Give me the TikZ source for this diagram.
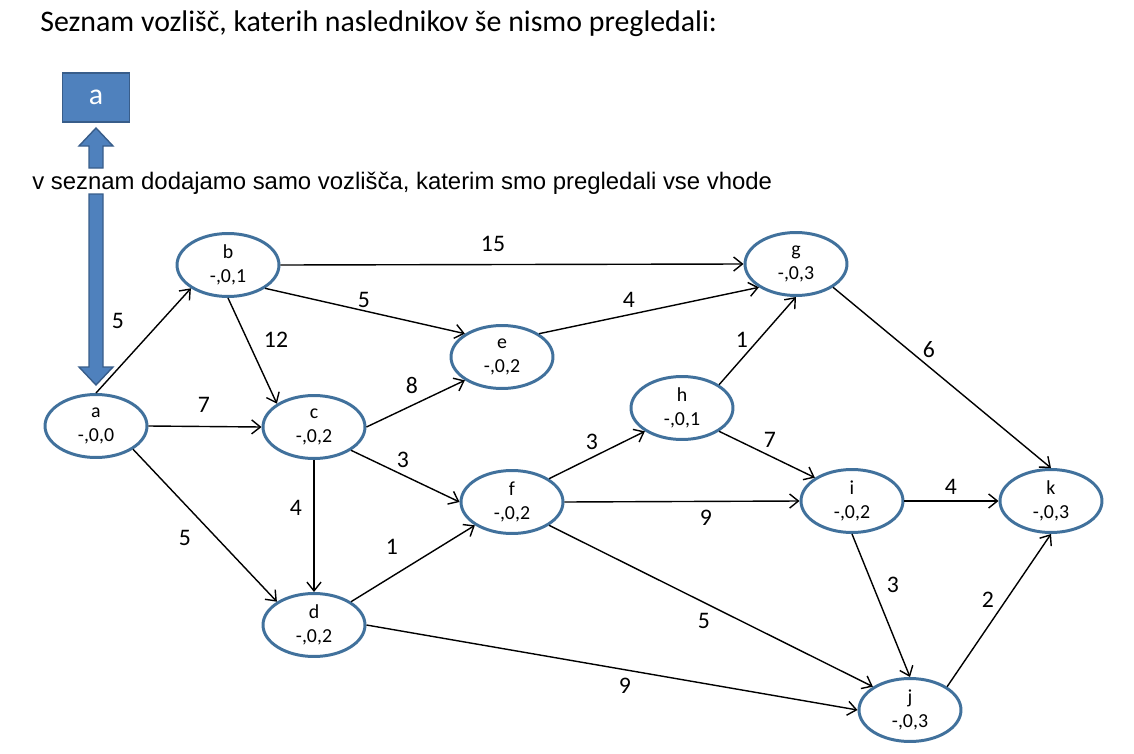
\documentclass[tikz,border=0pt]{standalone}
\usepackage{fontspec}
\setmainfont{Carlito}
\newfontfamily\arialfont{Liberation Sans}
\usetikzlibrary{shapes.geometric, arrows.meta}
\definecolor{obroba}{HTML}{41719C}
\definecolor{polnilo}{HTML}{4F81BD}
\definecolor{temna}{HTML}{385D8A}

\begin{document}
\begin{tikzpicture}[x=0.02cm, y=-0.02cm,
    vozl/.style={ellipse, draw=obroba, line width=1.7pt, minimum width=2.04cm,
        minimum height=1.26cm, inner sep=0pt, align=center,
        font=\fontsize{11.3}{13.6}\selectfont},
    pov/.style={-{Straight Barb[length=5pt,width=8pt]}, line width=0.8pt},
    utez/.style={font=\fontsize{13.5}{16}\selectfont}]
    \useasboundingbox (0,0) rectangle (1134,754);

    % Napisa
    \node[anchor=west, inner sep=0pt, font=\fontsize{17}{20}\selectfont] (naslov) at (40,24)
        {Seznam vozlišč, katerih naslednikov še nismo pregledali:};
    \node[anchor=west, inner sep=0pt, font=\arialfont\fontsize{13.6}{16}\selectfont] (opomba) at (32,183)
        {v seznam dodajamo samo vozlišča, katerim smo pregledali vse vhode};

    % Seznam in puščici
    \node[draw=temna, fill=polnilo, line width=1pt, minimum width=1.34cm,
        minimum height=0.98cm, text=white, font=\fontsize{17}{20}\selectfont] (seznam) at (96,97.5) {a};
    \filldraw[fill=polnilo, draw=temna, line width=0.8pt]
        (96,128) -- (113,146) -- (103,146) -- (103,168) -- (89,168) -- (89,146) -- (79,146) -- cycle;
    \filldraw[fill=polnilo, draw=temna, line width=0.8pt]
        (89,194) -- (103,194) -- (103,367) -- (113,367) -- (96,385) -- (79,367) -- (89,367) -- cycle;

    % Vozlišča
    \node[vozl] (a) at (96,426) {a\\-,0,0};
    \node[vozl] (b) at (228,265) {b\\-,0,1};
    \node[vozl] (c) at (314,427) {c\\-,0,2};
    \node[vozl] (d) at (314,625) {d\\-,0,2};
    \node[vozl] (e) at (502,357) {e\\-,0,2};
    \node[vozl] (f) at (512,502) {f\\-,0,2};
    \node[vozl] (g) at (796,264) {g\\-,0,3};
    \node[vozl] (h) at (682,408) {h\\-,0,1};
    \node[vozl] (i) at (852,501) {i\\-,0,2};
    \node[vozl] (j) at (910,710) {j\\-,0,3};
    \node[vozl] (k) at (1051,501) {k\\-,0,3};

    % Povezave
    \draw[pov] (a.north) -- (b.south west);
    \draw[pov] (a.east) -- (c.west);
    \draw[pov] (a.south east) -- (d.north west);
    \draw[pov] (b.south) -- (c.north west);
    \draw[pov] (b.south east) -- (e.north west);
    \draw[pov] (b.east) -- (g.west);
    \draw[pov] (c.east) -- (e.south west);
    \draw[pov] (c.south east) -- (f.west);
    \draw[pov] (c.south) -- (d.north);
    \draw[pov] (d.north east) -- (f.south west);
    \draw[pov] (d.east) -- (j.west);
    \draw[pov] (e.north east) -- (g.south west);
    \draw[pov] (f.north east) -- (h.south west);
    \draw[pov] (f.east) -- (i.west);
    \draw[pov] (f.south east) -- (j.north west);
    \draw[pov] (h.north east) -- (g.south);
    \draw[pov] (h.south east) -- (i.north west);
    \draw[pov] (g.south east) -- (k.north);
    \draw[pov] (i.east) -- (k.west);
    \draw[pov] (i.south) -- (j.north);
    \draw[pov] (j.north east) -- (k.south);

    % Uteži
    \node[utez] (u-ab) at (118,321) {5};
    \node[utez] (u-ac) at (204,405) {7};
    \node[utez] (u-ad) at (185,538) {5};
    \node[utez] (u-bc) at (276,340) {12};
    \node[utez] (u-be) at (364,300) {5};
    \node[utez] (u-bg) at (493,244) {15};
    \node[utez] (u-ce) at (412,385) {8};
    \node[utez] (u-cf) at (403,460) {3};
    \node[utez] (u-cd) at (296,508) {4};
    \node[utez] (u-df) at (392,547) {1};
    \node[utez] (u-dj) at (625,686) {9};
    \node[utez] (u-eg) at (629,300) {4};
    \node[utez] (u-fh) at (592,442) {3};
    \node[utez] (u-fi) at (706,518) {9};
    \node[utez] (u-fj) at (704,621) {5};
    \node[utez] (u-hg) at (742,340) {1};
    \node[utez] (u-hi) at (770,440) {7};
    \node[utez] (u-gk) at (929,350) {6};
    \node[utez] (u-ik) at (951,487) {4};
    \node[utez] (u-ij) at (893,585) {3};
    \node[utez] (u-jk) at (988,600) {2};
\end{tikzpicture}
\end{document}
